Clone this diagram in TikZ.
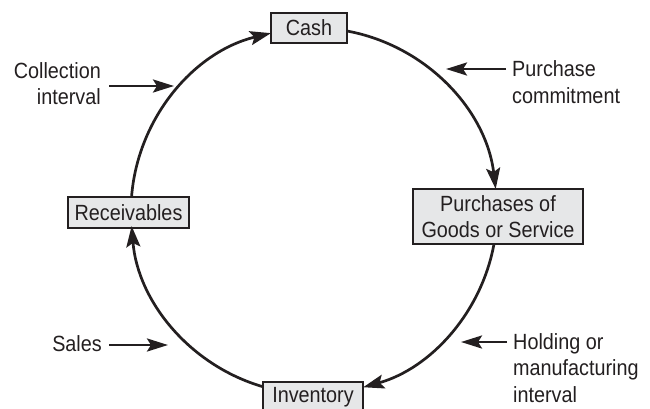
\documentclass[tikz,border=0pt]{standalone}
\usepackage{fontspec}
\setmainfont[FakeStretch=0.9]{Liberation Sans}
\usetikzlibrary{arrows.meta,calc}
\definecolor{ink}{HTML}{231F20}
\definecolor{boxfill}{HTML}{E6E7E8}
\begin{document}
\begin{tikzpicture}[x=1pt,y=-1pt,
  font=\fontsize{22}{26.5}\selectfont, text=ink,
  stagebox/.style={draw=ink, line width=2.8pt, fill=boxfill, inner sep=0pt, minimum height=30pt, align=center},
  cyc/.style={draw=ink, line width=2.7pt, -{Stealth[length=21pt,width=14pt,inset=4pt]}},
  lab/.style={inner sep=0pt},
  ptr/.style={draw=ink, line width=2.8pt, -{Stealth[length=21pt,width=13pt,inset=4pt]}}]
\useasboundingbox (0,0) rectangle (650,408);
\coordinate (O) at (314,211);
% stage boxes
\node[stagebox, minimum width=76pt] (cash) at (309,28) {Cash};
\node[stagebox, minimum width=121pt, minimum height=31pt] (rec) at (128.5,212.5) {Receivables};
\node[stagebox, minimum width=170pt, minimum height=55pt] (pur) at (498,216.5) {Purchases of\\Goods or Service};
\node[stagebox, minimum width=100pt] (inv) at (313,397) {Inventory};
% points where the cycle meets the boxes
\coordinate (cashR) at ($(O)+(-79.6:183)$);
\coordinate (purB) at ($(O)+(10.4:183)$);
\coordinate (invL) at ($(O)+(106.2:183)$);
\coordinate (recT) at ($(O)+(184.4:183)$);
% cycle arcs
\draw[cyc] (cashR) arc[start angle=-79.6,end angle=-6.9,radius=183];
\draw[cyc] (purB) arc[start angle=10.4,end angle=74.4,radius=183];
\draw[cyc] (invL) arc[start angle=106.2,end angle=175.3,radius=183];
\draw[cyc] (recT) arc[start angle=184.4,end angle=256.4,radius=183];
% labels
\node[lab, anchor=east, align=right] (coll) at (101,83.5) {Collection\\interval};
\node[lab, anchor=west, align=left] (pc) at (512,82) {Purchase\\commitment};
\node[lab, anchor=east] (sales) at (102,344) {Sales};
\node[lab, anchor=west, align=left] (hold) at (513,368) {Holding or\\manufacturing\\interval};
\coordinate (collT) at (174,86);
\coordinate (pcT) at (446,69);
\coordinate (salesT) at (168,345);
\coordinate (holdT) at (461,342);
\draw[ptr] ([xshift=8pt]coll.east |- collT) -- (collT);
\draw[ptr] ([xshift=-6pt]pc.west |- pcT) -- (pcT);
\draw[ptr] ([xshift=7pt]sales.east |- salesT) -- (salesT);
\draw[ptr] ([xshift=-6pt]hold.west |- holdT) -- (holdT);
\end{tikzpicture}
\end{document}
